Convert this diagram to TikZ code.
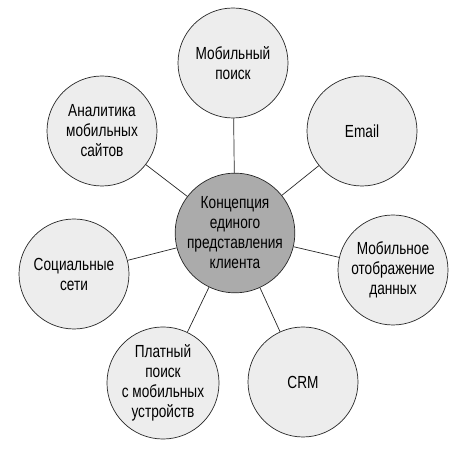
\documentclass[tikz,border=0pt]{standalone}
\usepackage{fontspec}
\setmainfont[FakeStretch=0.78]{Liberation Sans}

\begin{document}
\begin{tikzpicture}[x=1pt, y=1pt, line width=0.7pt,
	topic/.style={circle, draw=black!85, fill=black!7, minimum size=110pt, inner sep=0pt,
		align=center, font=\fontsize{17.5}{20}\selectfont, text=black},
	hub/.style={topic, fill=black!33, minimum size=108pt}]
			
			\useasboundingbox (0,0) rectangle (472,454);
			
			\node[hub] (C) at (235,221) {Концепция\\единого\\представления\\клиента};
			
			\node[topic] (search) at (233,391) {Мобильный\\поиск};
			\node[topic] (email) at (362,323) {Email};
			\node[topic] (analytics) at (102,323) {Аналитика\\мобильных\\сайтов};
			\node[topic] (display) at (393,184) {Мобильное\\отображение\\данных};
			\node[topic] (social) at (74,180) {Социальные\\сети};
			\node[topic] (paid) at (163,71) {Платный\\поиск\\с мобильных\\устройств};
			\node[topic] (crm) at (303,72) {CRM};
			
			\foreach \t in {search,email,analytics,display,social,paid,crm}
			\draw[black!85] (C) -- (\t);
			
	\end{tikzpicture}
\end{document}
